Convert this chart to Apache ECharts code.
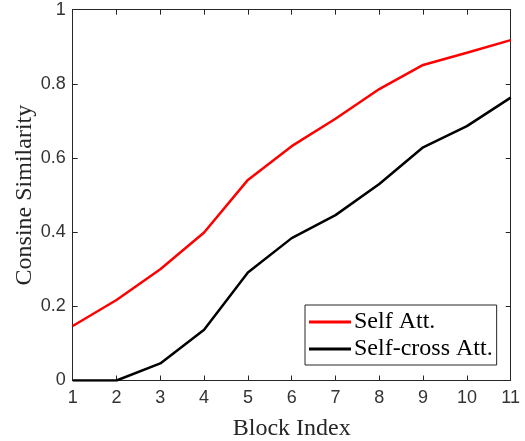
<!DOCTYPE html>
<html>
<head>
<meta charset="utf-8">
<script src="https://cdn.jsdelivr.net/npm/echarts@6/dist/echarts.min.js"></script>
<style>html,body{margin:0;padding:0;background:#fff;}#c{width:525px;height:441px;}</style>
</head>
<body>
<div id="c"></div>
<script>
const blockIndex = [1, 2, 3, 4, 5, 6, 7, 8, 9, 10, 11];
const selfAtt = [0.147, 0.217, 0.300, 0.399, 0.541, 0.632, 0.706, 0.786, 0.851, 0.884, 0.918];
const selfCrossAtt = [0.0, 0.0, 0.046, 0.137, 0.291, 0.384, 0.446, 0.530, 0.629, 0.686, 0.763];
const xTicks = [1, 2, 3, 4, 5, 6, 7, 8, 9, 10, 11];
const yTicks = [0, 0.2, 0.4, 0.6, 0.8, 1];

const axisColor = '#262626';
const chart = echarts.init(document.getElementById('c'), null, {renderer: 'canvas'});
const pair = (xs, ys) => xs.map((x, i) => [x, ys[i]]);
const tickFont = {fontFamily: 'Liberation Sans', fontSize: 18, color: '#333333'};
const titleFont = {fontFamily: 'Liberation Serif', fontSize: 24, color: '#262626'};
chart.setOption({
  animation: false,
  backgroundColor: '#fff',
  grid: {left: 72.7, top: 9.7, right: 14.3, bottom: 60.5, containLabel: false, outerBoundsMode: 'none'},
  xAxis: [{
    type: 'value', min: 1, max: 11, interval: 1, position: 'bottom',
    name: 'Block Index', nameLocation: 'middle', nameGap: 36, nameMoveOverlap: false,
    nameTextStyle: titleFont,
    axisLine: {show: true, onZero: false, lineStyle: {color: axisColor, width: 1}},
    axisTick: {show: true, inside: true, length: 5, lineStyle: {color: axisColor}},
    axisLabel: Object.assign({margin: 9, formatter: v => xTicks.includes(v) ? String(v) : ''}, tickFont),
    splitLine: {show: false}
  }, {
    type: 'value', min: 1, max: 11, interval: 1, position: 'top',
    axisLine: {show: true, onZero: false, lineStyle: {color: axisColor, width: 1}},
    axisTick: {show: true, inside: true, length: 5, lineStyle: {color: axisColor}},
    axisLabel: {show: false}, splitLine: {show: false}
  }],
  yAxis: [{
    type: 'value', min: 0, max: 1, interval: 0.2, position: 'left',
    name: 'Consine Similarity', nameLocation: 'middle', nameGap: 36, nameMoveOverlap: false,
    nameTextStyle: titleFont,
    axisLine: {show: true, onZero: false, lineStyle: {color: axisColor, width: 1}},
    axisTick: {show: true, inside: true, length: 5, lineStyle: {color: axisColor}},
    axisLabel: Object.assign({margin: 7, formatter: v => {
      const t = yTicks.find(k => Math.abs(k - v) < 1e-9);
      return t === undefined ? '' : String(t);
    }}, tickFont),
    splitLine: {show: false}
  }, {
    type: 'value', min: 0, max: 1, interval: 0.2, position: 'right',
    axisLine: {show: true, onZero: false, lineStyle: {color: axisColor, width: 1}},
    axisTick: {show: true, inside: true, length: 5, lineStyle: {color: axisColor}},
    axisLabel: {show: false}, splitLine: {show: false}
  }],
  legend: {
    orient: 'vertical', left: 305, top: 305,
    backgroundColor: '#fff', borderColor: '#262626', borderWidth: 1,
    padding: [5, 4, 4, 4], itemGap: 3,
    itemWidth: 42, itemHeight: 3, icon: 'rect',
    textStyle: {fontFamily: 'Liberation Serif', fontSize: 24, color: '#000', padding: [0, 0, 0, -2]},
    data: ['Self Att.', 'Self-cross Att.']
  },
  series: [{
    name: 'Self Att.', type: 'line', data: pair(blockIndex, selfAtt),
    symbol: 'none', lineStyle: {color: '#ff0000', width: 2.5}, itemStyle: {color: '#ff0000'}, z: 3
  }, {
    name: 'Self-cross Att.', type: 'line', data: pair(blockIndex, selfCrossAtt),
    symbol: 'none', lineStyle: {color: '#000000', width: 2.5}, itemStyle: {color: '#000000'}, z: 2
  }]
});
</script>
</body>
</html>
